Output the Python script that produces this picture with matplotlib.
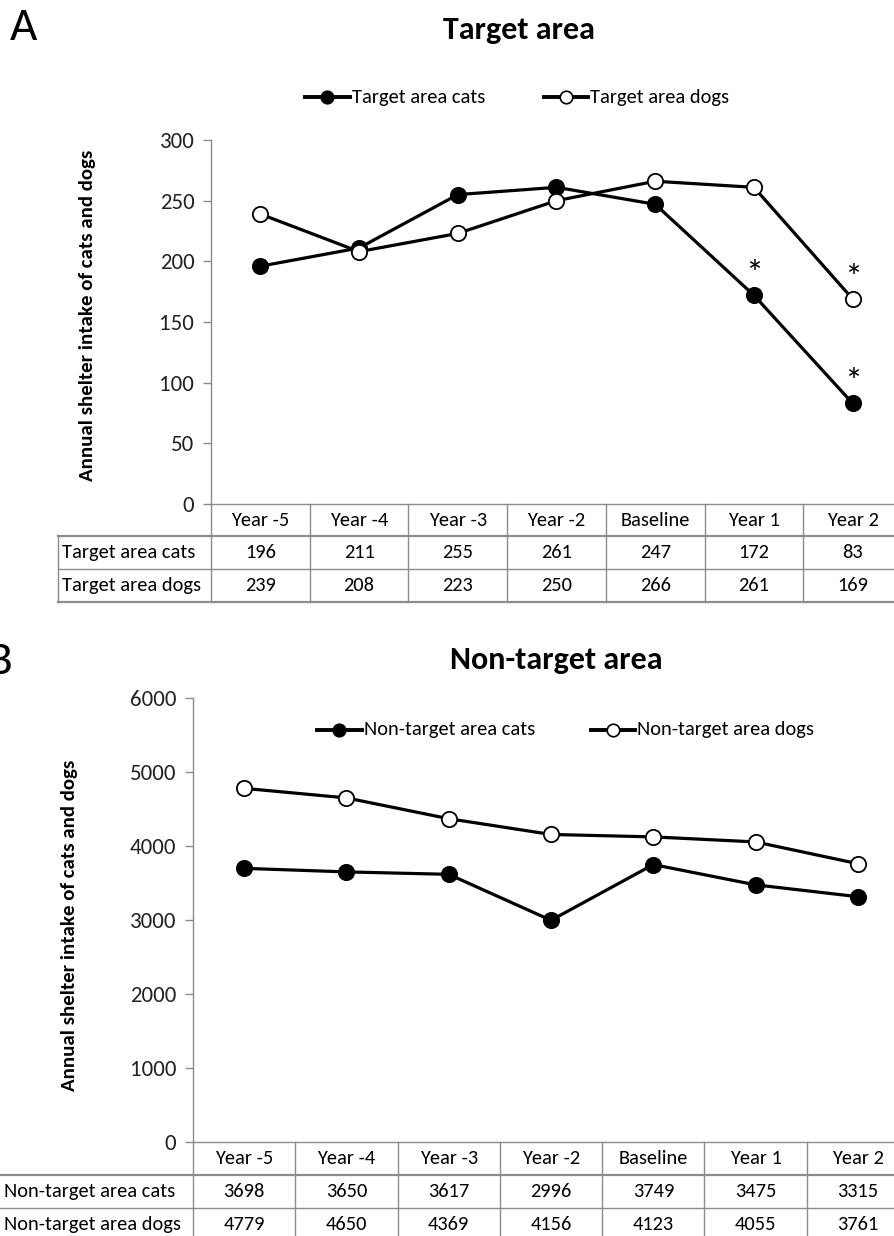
import matplotlib
matplotlib.use("Agg")
import matplotlib.pyplot as plt
import matplotlib.transforms as mtransforms
from matplotlib.lines import Line2D
from matplotlib import font_manager

categories = ["Year -5", "Year -4", "Year -3", "Year -2", "Baseline", "Year 1", "Year 2"]
target_cats = [196, 211, 255, 261, 247, 172, 83]
target_dogs = [239, 208, 223, 250, 266, 261, 169]
nontarget_cats = [3698, 3650, 3617, 2996, 3749, 3475, 3315]
nontarget_dogs = [4779, 4650, 4369, 4156, 4123, 4055, 3761]
target_cats_sig = [5, 6]
target_dogs_sig = [6]
yticks_a = [0, 50, 100, 150, 200, 250, 300]
yticks_b = [0, 1000, 2000, 3000, 4000, 5000, 6000]

avail = {f.name for f in font_manager.fontManager.ttflist}
FONT = "Carlito" if "Carlito" in avail else "Lato"
plt.rcParams["font.family"] = [FONT, "DejaVu Sans"]

W, H = 895, 1236
fig = plt.figure(figsize=(W / 100, H / 100), dpi=100)
px = mtransforms.Affine2D().scale(1 / W, -1 / H).translate(0, 1) + fig.transFigure

GRID = "#8c8c8c"
TABFS = 14.7
TICKFS = 16.5


def hline(x0, x1, y, lw=1.0):
    fig.add_artist(Line2D([x0, x1], [y, y], transform=px, color=GRID, lw=lw))


def vline(x, y0, y1, lw=1.0):
    fig.add_artist(Line2D([x, x], [y0, y1], transform=px, color=GRID, lw=lw))


def panel(left, right, top, bottom, ylim, yticks, cats, dogs, names, row_left,
          row_label_x, table_rows, title, title_xy, legend_specs, ylabel_xy,
          letter, letter_xy, sig_cats=(), sig_dogs=()):
    ax = fig.add_axes([left / W, 1 - bottom / H, (right - left) / W, (bottom - top) / H])
    ax.set_xlim(-0.5, len(categories) - 0.5)
    ax.set_ylim(*ylim)
    for s in ("top", "right", "bottom"):
        ax.spines[s].set_visible(False)
    ax.spines["left"].set_color(GRID)
    ax.spines["left"].set_linewidth(1.0)
    ax.set_xticks([])
    ax.set_yticks(yticks)
    ax.tick_params(axis="y", direction="out", length=6, color=GRID, width=1.0,
                   labelsize=TICKFS, pad=6, labelcolor="#222222")
    x = list(range(len(categories)))
    ax.plot(x, cats, color="black", lw=2.3, marker="o", ms=11, mfc="black",
            mec="black", mew=1.3, clip_on=False, zorder=3)
    ax.plot(x, dogs, color="black", lw=2.3, marker="o", ms=11, mfc="white",
            mec="black", mew=1.3, clip_on=False, zorder=4)
    for i in sig_cats:
        ax.annotate("*", (i, cats[i]), xytext=(0, 3), textcoords="offset points",
                    ha="center", va="bottom", fontsize=26)
    for i in sig_dogs:
        ax.annotate("*", (i, dogs[i]), xytext=(0, 3), textcoords="offset points",
                    ha="center", va="bottom", fontsize=26)

    # table
    n = len(categories)
    cw = (right - left) / n
    bounds = [left + i * cw for i in range(n + 1)]
    r0, r1, r2, r3 = table_rows
    hline(left, right, r0)
    hline(row_left, right, r1, lw=1.6)
    hline(row_left, right, r2)
    hline(row_left, right, r3, lw=1.6)
    for b in bounds:
        vline(b, r0, r3)
    vline(row_left, r1, r3)
    for i, c in enumerate(categories):
        xc = left + (i + 0.5) * cw
        fig.text(xc / W, 1 - ((r0 + r1) / 2) / H, c, ha="center", va="center", fontsize=TABFS)
        fig.text(xc / W, 1 - ((r1 + r2) / 2) / H, str(cats[i]), ha="center", va="center", fontsize=TABFS)
        fig.text(xc / W, 1 - ((r2 + r3) / 2) / H, str(dogs[i]), ha="center", va="center", fontsize=TABFS)
    fig.text(row_label_x / W, 1 - ((r1 + r2) / 2) / H, names[0], ha="left", va="center", fontsize=TABFS)
    fig.text(row_label_x / W, 1 - ((r2 + r3) / 2) / H, names[1], ha="left", va="center", fontsize=TABFS)

    # titles
    fig.text(title_xy[0] / W, 1 - title_xy[1] / H, title, ha="center", va="center",
             fontsize=23, fontweight="bold")
    fig.text(letter_xy[0] / W, 1 - letter_xy[1] / H, letter, ha="left", va="center",
             fontsize=34, fontweight="light")
    fig.text(ylabel_xy[0] / W, 1 - ylabel_xy[1] / H, "Annual shelter intake of cats and dogs",
             ha="center", va="center", rotation=90, fontsize=15, fontweight="bold")

    # legend
    for (x0, x1, y, name, face) in legend_specs:
        fig.add_artist(Line2D([x0, (x0 + x1) / 2, x1], [y, y, y], transform=px, color="black",
                              lw=2.8, marker="o", ms=9, mfc=face, mec="black", mew=1.2,
                              markevery=[1]))
        fig.text((x1 + 2) / W, 1 - y / H, name, ha="left", va="center", fontsize=TABFS)
    return ax


panel(211, 902, 140, 504, (0, 300), yticks_a, target_cats, target_dogs,
      ["Target area cats", "Target area dogs"], 58, 62, (504, 536, 569, 602),
      "Target area", (519, 30),
      [(305, 350, 97, "Target area cats", "black"), (544, 588, 97, "Target area dogs", "white")],
      (88, 315), "A", (10, 28), target_cats_sig, target_dogs_sig)

panel(193, 909, 698, 1142, (0, 6000), yticks_b, nontarget_cats, nontarget_dogs,
      ["Non-target area cats", "Non-target area dogs"], -2, 4, (1142, 1175, 1208, 1241),
      "Non-target area", (556, 660),
      [(317, 362, 730, "Non-target area cats", "black"), (591, 635, 730, "Non-target area dogs", "white")],
      (70, 925), "B", (-13, 662))

fig.savefig("out.png", dpi=100)
